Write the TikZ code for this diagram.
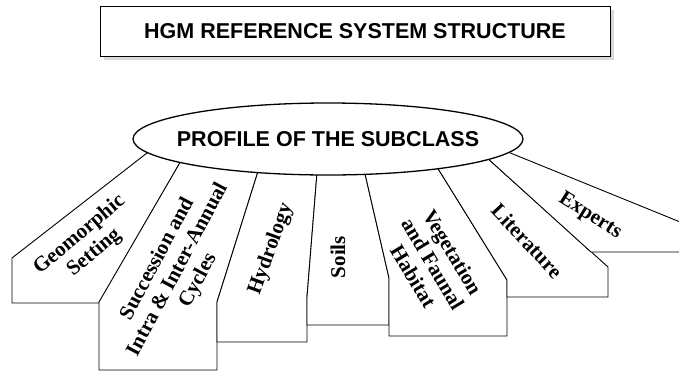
\documentclass[tikz,border=0pt]{standalone}
\usepackage{fontspec}
\setmainfont{Liberation Serif}
\setsansfont{Liberation Sans}
\usetikzlibrary{shapes.geometric,shadows}

\begin{document}
\begin{tikzpicture}[x=1pt,y=-1pt,
        panel/.style={draw,fill=white,line width=0.9pt},
        tab/.style={font=\fontsize{21}{23}\selectfont\bfseries,align=center}]
        \clip (0,0) rectangle (679,372);

        % heading
        \node[draw,fill=white,line width=1pt,minimum width=510pt,minimum height=50pt,
            font=\fontsize{21.5}{25}\selectfont\sffamily\bfseries,
            drop shadow={shadow xshift=4pt,shadow yshift=-4pt,fill=gray!30,opacity=1}]
            (title) at (355,31) {HGM REFERENCE SYSTEM STRUCTURE};

        % fan of panels under the ellipse
        \draw[panel] (174,132) -- (12,258) -- (12,303) -- (99,303) -- (196,135) -- cycle;
        \draw[panel] (196,135) -- (99,302) -- (99,370) -- (217,370) -- (217,302) -- (266,146) -- cycle;
        \draw[panel] (266,146) -- (217,302) -- (217,342) -- (307,342) -- (307,297) -- (319,148) -- cycle;
        \draw[panel] (319,148) -- (307,297) -- (307,325) -- (389,325) -- (389,278) -- (360,152) -- cycle;
        \draw[panel] (360,152) -- (389,278) -- (389,336) -- (507,336) -- (507,280) -- (424,146) -- cycle;
        \draw[panel] (424,146) -- (507,280) -- (507,297) -- (608,297) -- (608,267) -- (464,137) -- cycle;
        \draw[panel] (464,137) -- (591,252) -- (690,252) -- (690,226) -- (476,139) -- cycle;

        \node[ellipse,draw,fill=white,line width=1.3pt,inner sep=0pt,
            minimum width=390pt,minimum height=72pt] (profile) at (328,139) {};
        \node[font=\fontsize{21.5}{25}\selectfont\sffamily\bfseries]
            (profiletext) at (profile.center) {PROFILE OF THE SUBCLASS};

        \node[tab,rotate=40] (geo) at (87,244) {Geomorphic\\Setting};
        \node[tab,rotate=62] (succ) at (178,270) {Succession and\\Intra \& Inter-Annual\\Cycles};
        \node[tab,rotate=70] (hydro) at (271,249) {Hydrology};
        \node[tab,rotate=90] (soils) at (338,257) {Soils};
        \node[tab,rotate=-59] (veg) at (433,264) {Vegetation\\and Faunal\\Habitat};
        \node[tab,rotate=-47] (lit) at (527,241) {Literature};
        \node[tab,rotate=-32] (exp) at (590,216) {Experts};
\end{tikzpicture}
\end{document}
